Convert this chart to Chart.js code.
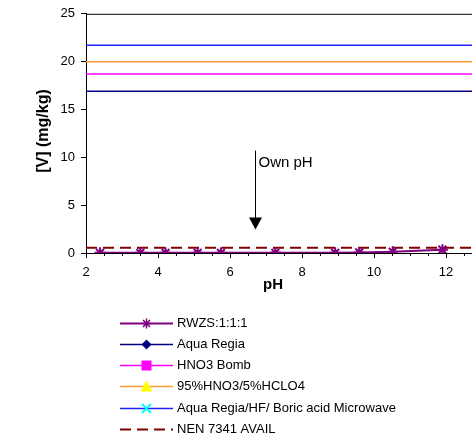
<!DOCTYPE html>
<html>
<head>
<meta charset="utf-8">
<script src="https://cdn.jsdelivr.net/npm/chart.js@4/dist/chart.umd.min.js"></script>
<style>
  html, body { margin: 0; padding: 0; background: #fff; overflow: hidden; }
  #wrap { width: 490px; height: 441px; }
</style>
</head>
<body>
<div id="wrap"><canvas id="vChart" width="490" height="441"></canvas></div>
<script>
// pH of the RWZS leaching steps and measured V (mg/kg)
const phValues = [2.39, 3.51, 4.21, 5.1, 5.75, 7.26, 8.92, 9.59, 10.52, 11.9];
const rwzsValues = [0.02, 0.02, 0.02, 0.02, 0.02, 0.02, 0.02, 0.06, 0.13, 0.35];

// total digestion levels (constant over pH)
const lineRange = [2, 13];
const aquaRegia = 16.9;
const hno3Bomb = 18.7;
const hno3Hclo4 = 20.0;
const microwave = 21.7;
const nenAvail = 0.55;

const seriesNames = ['RWZS:1:1:1', 'Aqua Regia', 'HNO3 Bomb', '95%HNO3/5%HCLO4', 'Aqua Regia/HF/ Boric acid Microwave', 'NEN 7341 AVAIL'];
const xTickLabels = [2, 4, 6, 8, 10, 12];
const yTickLabels = [0, 5, 10, 15, 20, 25];
const ownPh = 6.69;

const FONT = 'Liberation Sans, Arial, sans-serif';

function flat(v) {
  return lineRange.map(x => ({ x: x, y: v }));
}

const datasets = [
  { label: seriesNames[0], data: phValues.map((x, i) => ({ x: x, y: rwzsValues[i] })), borderColor: '#800080', borderWidth: 2, pointStyle: 'star', pointRadius: 5.5, pointBorderColor: '#800080', pointBorderWidth: 2, marker: 'star', markerColor: '#800080' },
  { label: seriesNames[1], data: flat(aquaRegia), borderColor: '#000080', marker: 'diamond', markerColor: '#000080' },
  { label: seriesNames[2], data: flat(hno3Bomb), borderColor: '#FF00FF', marker: 'square', markerColor: '#FF00FF' },
  { label: seriesNames[3], data: flat(hno3Hclo4), borderColor: '#FF9933', marker: 'triangle', markerColor: '#FFFF00' },
  { label: seriesNames[4], data: flat(microwave), borderColor: '#2020FF', marker: 'cross', markerColor: '#00FFFF' },
  { label: seriesNames[5], data: flat(nenAvail), borderColor: '#800000', borderDash: [11, 6], borderWidth: 2, marker: null }
];
datasets.forEach(d => {
  d.showLine = true;
  d.fill = false;
  if (d.borderWidth === undefined) d.borderWidth = 1.5;
  if (d.pointRadius === undefined) d.pointRadius = 0;
});

function drawMarker(ctx, type, color, x, y) {
  ctx.save();
  ctx.fillStyle = color;
  ctx.strokeStyle = color;
  ctx.lineWidth = 1.5;
  ctx.setLineDash([]);
  ctx.beginPath();
  if (type === 'star') {
    const r = 5;
    ctx.moveTo(x - r, y); ctx.lineTo(x + r, y);
    ctx.moveTo(x, y - r); ctx.lineTo(x, y + r);
    ctx.moveTo(x - r * 0.7, y - r * 0.7); ctx.lineTo(x + r * 0.7, y + r * 0.7);
    ctx.moveTo(x - r * 0.7, y + r * 0.7); ctx.lineTo(x + r * 0.7, y - r * 0.7);
    ctx.stroke();
  } else if (type === 'diamond') {
    const r = 5;
    ctx.moveTo(x, y - r); ctx.lineTo(x + r, y); ctx.lineTo(x, y + r); ctx.lineTo(x - r, y);
    ctx.closePath(); ctx.fill();
  } else if (type === 'square') {
    ctx.fillRect(x - 5, y - 5, 10, 10);
  } else if (type === 'triangle') {
    ctx.moveTo(x, y - 6); ctx.lineTo(x + 6, y + 5); ctx.lineTo(x - 6, y + 5);
    ctx.closePath(); ctx.fill();
  } else if (type === 'cross') {
    const r = 4.5;
    ctx.lineWidth = 2;
    ctx.moveTo(x - r, y - r); ctx.lineTo(x + r, y + r);
    ctx.moveTo(x - r, y + r); ctx.lineTo(x + r, y - r);
    ctx.stroke();
  }
  ctx.restore();
}

const extrasPlugin = {
  id: 'extras',
  afterDraw(chart) {
    const ctx = chart.ctx;
    const area = chart.chartArea;
    const xs = chart.scales.x;
    const ys = chart.scales.y;
    ctx.save();

    // top border of plot area
    ctx.strokeStyle = '#000';
    ctx.lineWidth = 1;
    ctx.beginPath();
    ctx.moveTo(area.left, area.top + 0.5);
    ctx.lineTo(area.right, area.top + 0.5);
    ctx.stroke();

    // minor ticks on the pH axis
    ctx.beginPath();
    for (let v = 2.5; v < 13; v += 0.5) {
      if (v % 2 === 0) continue;
      const px = Math.round(xs.getPixelForValue(v)) + 0.5;
      ctx.moveTo(px, area.bottom);
      ctx.lineTo(px, area.bottom + 3);
    }
    ctx.stroke();

    // Own pH arrow
    const ax = Math.round(xs.getPixelForValue(ownPh)) + 0.5;
    const yStart = ys.getPixelForValue(10.7);
    const yTip = ys.getPixelForValue(2.45);
    ctx.beginPath();
    ctx.moveTo(ax, yStart);
    ctx.lineTo(ax, yTip - 10);
    ctx.stroke();
    ctx.fillStyle = '#000';
    ctx.beginPath();
    ctx.moveTo(ax - 6.5, yTip - 12);
    ctx.lineTo(ax + 6.5, yTip - 12);
    ctx.lineTo(ax, yTip);
    ctx.closePath();
    ctx.fill();
    ctx.font = '15px ' + FONT;
    ctx.textAlign = 'left';
    ctx.textBaseline = 'middle';
    ctx.fillText('Own pH', ax + 3, ys.getPixelForValue(9.4));

    // axis titles
    ctx.font = 'bold 15px ' + FONT;
    ctx.textAlign = 'center';
    ctx.fillText('pH', 273, 285);
    ctx.save();
    ctx.translate(43.5, 131);
    ctx.rotate(-Math.PI / 2);
    ctx.font = 'bold 16px ' + FONT;
    ctx.fillText('[V] (mg/kg)', 0, 0);
    ctx.restore();

    // legend
    ctx.font = '13px ' + FONT;
    ctx.textAlign = 'left';
    chart.data.datasets.forEach((d, i) => {
      const y = Math.round(322.7 + i * 21.2) + 0.5;
      ctx.strokeStyle = d.borderColor;
      ctx.lineWidth = d.borderWidth;
      ctx.setLineDash(d.borderDash || []);
      ctx.beginPath();
      ctx.moveTo(120, y);
      ctx.lineTo(173, y);
      ctx.stroke();
      ctx.setLineDash([]);
      if (d.marker) drawMarker(ctx, d.marker, d.markerColor, 146.5, y);
      ctx.fillStyle = '#000';
      ctx.fillText(d.label, 177, y);
    });
    ctx.restore();
  }
};

new Chart(document.getElementById('vChart'), {
  type: 'scatter',
  data: { datasets: datasets },
  options: {
    responsive: false,
    animation: false,
    layout: { padding: { top: 12, right: 8, left: 0, bottom: 0 } },
    plugins: { legend: { display: false }, tooltip: { enabled: false } },
    scales: {
      x: {
        type: 'linear',
        min: 2,
        max: 13,
        afterFit(scale) { scale.height = 188; },
        border: { color: '#000', width: 1 },
        grid: { drawOnChartArea: false, drawTicks: true, tickLength: 5, color: '#000' },
        ticks: {
          stepSize: 2,
          includeBounds: false,
          color: '#000',
          padding: 7,
          maxRotation: 0,
          font: { family: FONT, size: 13 },
          callback: v => xTickLabels.includes(v) ? String(v) : ''
        }
      },
      y: {
        min: 0,
        max: 25,
        afterFit(scale) { scale.width = 86; },
        border: { color: '#000', width: 1 },
        grid: { drawOnChartArea: false, drawTicks: true, tickLength: 5, color: '#000' },
        ticks: {
          stepSize: 5,
          color: '#000',
          padding: 6,
          font: { family: FONT, size: 13 },
          callback: v => yTickLabels.includes(v) ? String(v) : ''
        }
      }
    }
  },
  plugins: [extrasPlugin]
});
</script>
</body>
</html>
